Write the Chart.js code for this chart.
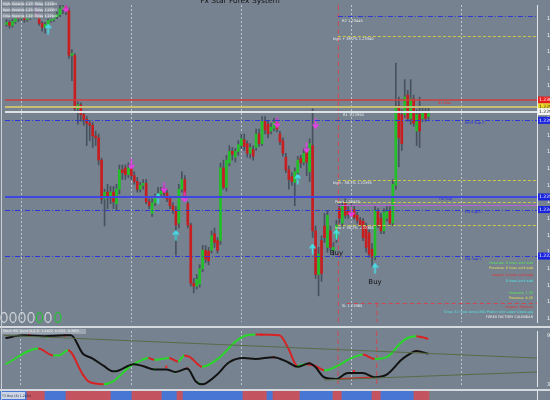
<!DOCTYPE html>
<html>
<head>
<meta charset="utf-8">
<title>Fx Star Forex System</title>
<script src="https://cdn.jsdelivr.net/npm/chart.js@4.4.1/dist/chart.umd.min.js"></script>
<style>
  html, body { margin: 0; padding: 0; background: #76828f; overflow: hidden; }
  #wrap { position: relative; width: 550px; height: 400px; }
  #wrap canvas { position: absolute; left: 0; }
  .sep { position: absolute; left: 0; width: 550px; height: 2px; background: #d5dadf; }
  .edge { position: absolute; left: 1px; top: 0; width: 1px; height: 400px; background: #c9cfd5; }
</style>
</head>
<body>
<div id="wrap">
  <canvas id="price_chart" width="550" height="327" style="top:0"></canvas>
  <canvas id="osc_chart" width="550" height="63" style="top:327px"></canvas>
  <canvas id="strip_chart" width="550" height="10" style="top:390px"></canvas>
  <div class="sep" style="top:326px"></div>
  <div class="sep" style="top:389px"></div>
  <div class="edge"></div>
</div>
<script>
var labels = Array.from({length: 179}, (_, i) => i);

// candles, one per bar
var open = [
1.23400,1.23410,1.23395,1.23415,1.23445,1.23430,1.23440,1.23425,1.23435,1.23450,
1.23460,1.23440,1.23405,1.23385,1.23400,1.23420,1.23425,1.23440,1.23450,1.23480,
1.23490,1.23470,1.23240,1.23240,1.22965,1.22985,1.22935,1.22910,1.22890,1.22880,
1.22825,1.22815,1.22700,1.22500,1.22535,1.22510,1.22535,1.22475,1.22550,1.22650,
1.22660,1.22625,1.22660,1.22620,1.22590,1.22550,1.22570,1.22580,1.22485,1.22425,
1.22480,1.22510,1.22525,1.22550,1.22530,1.22500,1.22465,1.22440,1.22375,1.22550,
1.22600,1.22475,1.22365,1.22065,1.22050,1.22060,1.22140,1.22235,1.22230,1.22235,
1.22320,1.22285,1.22285,1.22660,1.22560,1.22685,1.22745,1.22715,1.22745,1.22775,
1.22805,1.22785,1.22735,1.22755,1.22765,1.22835,1.22785,1.22900,1.22885,1.22850,
1.22865,1.22895,1.22835,1.22800,1.22715,1.22650,1.22615,1.22585,1.22635,1.22710,
1.22690,1.22750,1.22640,1.22775,1.22335,1.22110,1.22285,1.22360,1.22250,1.22335,
1.22235,1.22300,1.22450,1.22375,1.22475,1.22440,1.22435,1.22445,1.22415,1.22390,
1.22385,1.22360,1.22325,1.22240,1.22200,1.22435,1.22400,1.22335,1.22400,1.22440,
1.22375,1.22570,1.22980,1.22935,1.22935,1.23035,1.22915,1.23015,1.22850,1.22935,
1.22915,1.22950,1.22925];
var close = [
1.23410,1.23395,1.23415,1.23445,1.23430,1.23440,1.23425,1.23435,1.23450,1.23460,
1.23440,1.23405,1.23385,1.23400,1.23420,1.23425,1.23440,1.23450,1.23480,1.23490,
1.23470,1.23240,1.23250,1.22965,1.22985,1.22935,1.22910,1.22890,1.22880,1.22825,
1.22815,1.22700,1.22500,1.22535,1.22510,1.22535,1.22485,1.22550,1.22650,1.22635,
1.22625,1.22660,1.22620,1.22590,1.22550,1.22570,1.22580,1.22485,1.22465,1.22480,
1.22510,1.22525,1.22540,1.22530,1.22500,1.22465,1.22440,1.22365,1.22550,1.22600,
1.22510,1.22365,1.22065,1.22050,1.22085,1.22140,1.22235,1.22190,1.22180,1.22310,
1.22275,1.22235,1.22660,1.22560,1.22700,1.22745,1.22730,1.22745,1.22780,1.22810,
1.22770,1.22735,1.22765,1.22720,1.22835,1.22785,1.22900,1.22855,1.22835,1.22870,
1.22895,1.22860,1.22795,1.22735,1.22650,1.22600,1.22590,1.22640,1.22700,1.22685,
1.22735,1.22690,1.22785,1.22335,1.22110,1.22215,1.22115,1.22300,1.22415,1.22250,
1.22250,1.22365,1.22400,1.22465,1.22415,1.22420,1.22460,1.22405,1.22390,1.22365,
1.22300,1.22250,1.22215,1.22200,1.22440,1.22365,1.22335,1.22430,1.22440,1.22375,
1.22575,1.22975,1.22815,1.22785,1.23025,1.22915,1.23015,1.22890,1.22935,1.22850,
1.22950,1.22915,1.22940];
var high = [
1.23425,1.23420,1.23430,1.23465,1.23460,1.23455,1.23450,1.23445,1.23465,1.23480,
1.23475,1.23450,1.23415,1.23410,1.23430,1.23440,1.23450,1.23465,1.23500,1.23510,
1.23515,1.23485,1.23270,1.23250,1.23000,1.22995,1.22950,1.22925,1.22905,1.22895,
1.22850,1.22835,1.22710,1.22550,1.22575,1.22565,1.22565,1.22575,1.22675,1.22675,
1.22675,1.22685,1.22675,1.22640,1.22610,1.22585,1.22600,1.22600,1.22500,1.22500,
1.22525,1.22560,1.22560,1.22570,1.22550,1.22515,1.22480,1.22460,1.22575,1.22640,
1.22620,1.22485,1.22375,1.22090,1.22110,1.22160,1.22260,1.22260,1.22250,1.22335,
1.22350,1.22300,1.22685,1.22700,1.22725,1.22775,1.22765,1.22760,1.22800,1.22835,
1.22835,1.22800,1.22785,1.22775,1.22860,1.22860,1.22925,1.22925,1.22900,1.22890,
1.22915,1.22915,1.22850,1.22815,1.22735,1.22670,1.22635,1.22660,1.22720,1.22725,
1.22760,1.22770,1.22810,1.22965,1.22360,1.22250,1.22310,1.22425,1.22440,1.22360,
1.22275,1.22390,1.22475,1.22485,1.22500,1.22460,1.22475,1.22465,1.22430,1.22405,
1.22400,1.22375,1.22340,1.22270,1.22460,1.22450,1.22425,1.22450,1.22460,1.22460,
1.22600,1.23200,1.23025,1.22960,1.23115,1.23060,1.23115,1.23035,1.22960,1.23025,
1.22975,1.22975,1.22970];
var low = [
1.23390,1.23380,1.23385,1.23405,1.23415,1.23420,1.23410,1.23415,1.23425,1.23440,
1.23430,1.23395,1.23365,1.23355,1.23390,1.23410,1.23415,1.23430,1.23440,1.23455,
1.23450,1.23225,1.23110,1.22950,1.22885,1.22900,1.22880,1.22775,1.22800,1.22765,
1.22775,1.22675,1.22475,1.22360,1.22450,1.22475,1.22450,1.22440,1.22525,1.22600,
1.22600,1.22610,1.22600,1.22575,1.22535,1.22535,1.22550,1.22475,1.22450,1.22410,
1.22465,1.22500,1.22510,1.22515,1.22485,1.22450,1.22425,1.22210,1.22350,1.22535,
1.22500,1.22350,1.22050,1.22015,1.22035,1.22045,1.22125,1.22170,1.22160,1.22220,
1.22250,1.22220,1.22265,1.22550,1.22540,1.22670,1.22700,1.22690,1.22725,1.22760,
1.22750,1.22715,1.22710,1.22700,1.22750,1.22770,1.22775,1.22835,1.22815,1.22835,
1.22850,1.22845,1.22780,1.22720,1.22635,1.22550,1.22570,1.22465,1.22600,1.22660,
1.22675,1.22620,1.22590,1.22300,1.22090,1.22000,1.22075,1.22275,1.22225,1.22235,
1.22210,1.22275,1.22375,1.22360,1.22400,1.22400,1.22420,1.22395,1.22375,1.22350,
1.22285,1.22225,1.22200,1.22150,1.22185,1.22350,1.22320,1.22320,1.22385,1.22360,
1.22360,1.22550,1.22665,1.22750,1.22920,1.22900,1.22885,1.22875,1.22775,1.22765,
1.22900,1.22900,1.22910];

var priceTicks = [1.23430,1.23344,1.23258,1.23172,1.23086,1.23000,1.22914,1.22828,1.22742,1.22656,
  1.22570,1.22484,1.22398,1.22312,1.22226,1.22140,1.22054,1.21968,1.21882];

// horizontal levels on the price panel
var levelNames = ['R2', 'high + 38.2%', '61.Max', 'Yesterday close', 'R1', 'MH3 Sup C', 'high - 38.2%',
  'H4 Sup', 'mid 38.2%', 'Pivot', 'H3 Sup C', 'low + 38.2%', 'M4 Sup C', 'SL'];
var levelValues = [1.23445, 1.23340, 1.23010, 1.22975, 1.22950, 1.22905, 1.22595,
  1.22510, 1.22485, 1.22470, 1.22445, 1.22365, 1.22205, 1.21965];

// signal arrows
var sellBars = [10, 20, 42, 53, 60, 91, 101, 104, 116];
var sellPrice = [1.23470, 1.23490, 1.22680, 1.22560, 1.22510, 1.22895, 1.22765, 1.22890, 1.22435];
var buyBars = [14, 51, 57, 98, 103, 111, 124];
var buyPrice = [1.23375, 1.22500, 1.22310, 1.22600, 1.22240, 1.22315, 1.22140];
var buyTextBars = [111, 124];
var buyTextPrice = [1.22220, 1.22070];

var gridBars = [5, 42, 79, 116, 153];
var dayStartBar = 112;
var tradeBar = 125;

var newsLines = ['Forecast: 0 lines until add', 'Previous: 0 lines until add', 'Impact: 0 lines until add',
  '0 lines until add', 'Forecast: 1.35', 'Previous: 4.25', 'Impact: Medium',
  'Time: 32 mins since USD Prelim Unit Labor Costs q/q', 'FOREX FACTORY CALENDAR'];
var infoRows = [['Highs', 'Yesterday:', '1.23515', 'Today:', '1.23200'],
  ['Opens', 'Yesterday:', '1.23400', 'Today:', '1.22935'],
  ['Closes', 'Yesterday:', '1.22935', 'Today:', '1.22940']];
var lampsOn = [0, 0, 0, 0, 1, 0, 1];

// oscillator panel
var fastBars = [0,11,16,18,21,26,28,33,36,42,46,48,50,55,58,60,62,66,72,77,80,84,92,95,98,101,104,107,117,120,124,128,133,135,138,142];
var fastValues = [39.7,68.2,55.5,55.5,65.0,20.6,7.9,3.2,7.9,36.5,47.6,50.8,47.6,50.8,44.4,55.5,52.4,34.9,52.4,79.4,90.5,93.6,92.1,68.2,36.5,39.7,36.5,28.6,52.4,57.1,49.2,52.4,79.4,87.3,90.5,85.7];
var slowBars = [0,6,13,20,22,26,29,33,36,37,43,46,50,54,57,61,64,66,71,75,80,84,90,95,98,102,104,107,111,115,120,124,128,133,135,138,142];
var slowValues = [87.3,92.1,90.5,92.1,92.1,58.7,50.8,36.5,27.0,27.0,39.7,36.5,30.2,30.2,25.4,31.7,7.9,3.2,20.6,42.8,50.8,49.2,52.4,42.8,34.9,41.3,34.9,15.9,12.7,23.8,23.8,15.9,20.6,47.6,55.5,63.5,58.7];
var upMarkBars = [14, 37, 50, 57, 65, 84, 98, 111, 124];
var upMarkValues = [88.9, 27.0, 30.2, 25.4, 5.0, 49.2, 34.9, 12.7, 15.9];
var downMarkBars = [8, 20, 54, 61, 86, 90, 102, 117, 138];
var downMarkValues = [93.6, 92.1, 34.9, 31.7, 93.0, 52.4, 41.3, 27.0, 63.5];
var divBars = [111, 124];
var divValues = [12.7, 15.9];
var trendABars = [-0.5, 178.5];
var trendAValues = [92.1, 50.8];
var trendBBars = [107, 178.5];
var trendBValues = [11.1, 25.4];
var oscTicks = [92, 3];

// bottom trend strip, one letter per bar (b = up, r = down)
var trend = 'bbbbbbbbb' + 'rrrrrr' + 'bbbbbbb' + 'rrrrrrrrrrrrrrr' + 'bbbbbbb' + 'rrrrrrrrrr' + 'bbbbb' + 'rr' +
  'bbbbbbbbbbbbbbbbbbbb' + 'rrrrrrrr' + 'bb' + 'rrrrrrrrr' + 'bbbbbbbbbbb' + 'rrr' + 'bbbbbbbbbb' + 'rrr' +
  'bbbbbbbbbbb' + 'rrrrr';

var FONT = '"DejaVu Sans"';
var GREEN = 'rgb(34,192,40)', RED = 'rgb(200,30,32)';

function pts(xs, ys) { return xs.map((x, i) => ({x: x, y: ys[i]})); }
function seg(c, x0, y0, x1, y1) { c.beginPath(); c.moveTo(x0, y0); c.lineTo(x1, y1); c.stroke(); }
function txt(c, s, x, y, color, size, align) {
  c.fillStyle = color; c.font = size + 'px ' + FONT;
  c.textAlign = align || 'left'; c.textBaseline = 'middle'; c.fillText(s, x, y);
}
function barEdge(chart, i) {
  return chart.scales.x.getPixelForValue(i) - chart.chartArea.width / labels.length / 2;
}
function arrowImage(color, up) {
  var cv = document.createElement('canvas');
  cv.width = 7; cv.height = 11;
  var g = cv.getContext('2d');
  g.strokeStyle = color; g.lineWidth = 1.6;
  g.beginPath();
  if (up) { g.moveTo(3.5, 10.5); g.lineTo(3.5, 1.5); g.moveTo(0.7, 4.5); g.lineTo(3.5, 1); g.lineTo(6.3, 4.5); }
  else { g.moveTo(3.5, 0.5); g.lineTo(3.5, 9.5); g.moveTo(0.7, 6.5); g.lineTo(3.5, 10); g.lineTo(6.3, 6.5); }
  g.stroke();
  return cv;
}
function rightAxis(min, max, ticks, fmt) {
  return {
    position: 'right', min: min, max: max,
    grid: {display: false},
    border: {color: '#e4e8ec', width: 1},
    ticks: {color: '#f4f6f8', font: {size: 5, family: 'DejaVu Sans'}, padding: 2, autoSkip: false, callback: fmt},
    afterBuildTicks: s => { s.ticks = ticks.map(v => ({value: v})); },
    afterFit: s => { s.width = 13; s.paddingTop = 0; s.paddingBottom = 0; }
  };
}

var BLUE_DOT = [5, 2, 1, 2], YEL_DASH = [3, 2];
var levelStyle = [
  {color: 'rgb(45,55,215)', width: 1, dash: BLUE_DOT, from: dayStartBar, text: 'price', tx: 342, ty: 5, tc: '#e9edf0'},
  {color: 'rgb(205,200,70)', width: 1, dash: YEL_DASH, from: dayStartBar, text: 'price', tx: 333, ty: 3, tc: '#e9edf0'},
  {color: 'rgb(205,62,62)', width: 1.5, text: 'name', tx: 438, ty: 3, tc: 'rgb(215,55,55)', box: 'rgb(232,30,30)', bt: '#fff'},
  {color: 'rgb(200,190,115)', width: 2, box: 'rgb(240,218,40)', bt: '#222'},
  {color: 'rgb(222,226,230)', width: 2, text: 'price', tx: 343, ty: 3, tc: '#eef1f3', box: '#f4f4f4', bt: '#222'},
  {color: 'rgb(45,55,215)', width: 1, dash: BLUE_DOT, text: 'name', tx: 465, ty: 3, tc: 'rgb(40,50,205)', box: 'rgb(25,35,220)', bt: '#fff'},
  {color: 'rgb(205,200,70)', width: 1, dash: YEL_DASH, from: dayStartBar, text: 'price', tx: 333, ty: 3, tc: '#e9edf0'},
  {color: 'rgb(62,72,225)', width: 2, text: 'name', tx: 439, ty: 2, tc: 'rgb(40,50,205)', box: 'rgb(25,35,220)', bt: '#fff'},
  {color: 'rgb(205,200,70)', width: 1, dash: YEL_DASH, from: dayStartBar},
  {color: 'rgb(190,95,215)', width: 1, from: dayStartBar, text: 'price', tx: 335, ty: -3, tc: '#e9edf0'},
  {color: 'rgb(45,55,215)', width: 1, dash: BLUE_DOT, text: 'name', tx: 465, ty: 3, tc: 'rgb(40,50,205)', box: 'rgb(25,35,220)', bt: '#fff'},
  {color: 'rgb(205,200,70)', width: 1, dash: YEL_DASH, from: dayStartBar, text: 'price', tx: 335, ty: 3, tc: '#e9edf0'},
  {color: 'rgb(45,55,215)', width: 1, dash: BLUE_DOT, text: 'name', tx: 465, ty: 3, tc: 'rgb(40,50,205)', box: 'rgb(25,35,220)', bt: '#fff'},
  {color: 'rgb(205,70,80)', width: 1, dash: [4, 3], from: 115, text: 'price', tx: 342, ty: 3, tc: '#e9edf0'}
];
var newsColors = ['rgb(90,235,90)', 'rgb(235,225,80)', 'rgb(235,45,45)', 'rgb(80,235,235)',
  'rgb(90,235,90)', 'rgb(235,225,80)', 'rgb(235,45,45)', 'rgb(80,235,235)', '#f2f2f2'];
var newsY = [263, 268, 275, 281, 293, 298, 307, 312, 317];

var priceDecor = {
  id: 'priceDecor',
  beforeDatasetsDraw(chart) {
    var c = chart.ctx, a = chart.chartArea, xs = chart.scales.x, ys = chart.scales.y;
    c.save();
    c.lineWidth = 1;
    c.strokeStyle = 'rgba(205,211,217,0.85)'; c.setLineDash([2, 2]);
    gridBars.forEach(b => { var x = Math.round(xs.getPixelForValue(b)) + 0.5; seg(c, x, a.top, x, a.bottom); });
    c.strokeStyle = 'rgb(205,75,85)'; c.setLineDash([5, 3]);
    var xd = barEdge(chart, dayStartBar) + 0.5;
    seg(c, xd, a.top, xd, a.bottom);
    var xt = barEdge(chart, tradeBar) + 0.5;
    seg(c, xt, ys.getPixelForValue(levelValues[13]), xt, a.bottom);
    c.restore();
  },
  afterDatasetsDraw(chart) {
    var c = chart.ctx, a = chart.chartArea, xs = chart.scales.x, ys = chart.scales.y;
    c.save();
    c.beginPath(); c.rect(a.left, a.top, a.width, a.height); c.clip();
    levelValues.forEach((v, k) => {
      var st = levelStyle[k];
      var y = Math.round(ys.getPixelForValue(v)) + (st.width === 1 ? 0.5 : 0);
      var x0 = st.from == null ? a.left : barEdge(chart, st.from);
      c.strokeStyle = st.color; c.lineWidth = st.width; c.setLineDash(st.dash || []);
      seg(c, x0, y, a.right, y);
    });
    c.setLineDash([]);
    levelValues.forEach((v, k) => {
      var st = levelStyle[k];
      if (!st.text) return;
      var s = st.text === 'name' ? levelNames[k] : levelNames[k] + ' ' + v.toFixed(5);
      txt(c, s, st.tx, ys.getPixelForValue(v) + st.ty, st.tc, 3.6);
    });
    buyTextBars.forEach((b, k) => {
      txt(c, 'Buy', xs.getPixelForValue(b), ys.getPixelForValue(buyTextPrice[k]), '#111', 7, 'center');
    });
    c.restore();
  },
  afterDraw(chart) {
    var c = chart.ctx, a = chart.chartArea, ys = chart.scales.y;
    c.save();
    // price boxes on the axis
    levelValues.forEach((v, k) => {
      var st = levelStyle[k];
      if (!st.box) return;
      var y = ys.getPixelForValue(v);
      c.fillStyle = st.box; c.fillRect(a.right + 1, y - 3.5, 14, 7);
      txt(c, v.toFixed(5), a.right + 2, y, st.bt, 4.5);
    });
    // title
    c.fillStyle = '#151515'; c.font = '7.5px ' + FONT; c.textAlign = 'center'; c.textBaseline = 'alphabetic';
    c.fillText('Fx Star Forex System', 240, 3);
    // info boxes top left
    var cx = [2, 11, 25, 34, 44], cw = [9, 14, 9, 10, 11];
    infoRows.forEach((row, r) => {
      row.forEach((s, j) => {
        c.fillStyle = 'rgba(150,160,172,0.85)'; c.fillRect(cx[j], 1 + r * 6, cw[j] - 0.5, 5.5);
        c.strokeStyle = 'rgba(95,105,115,0.9)'; c.lineWidth = 0.5; c.strokeRect(cx[j], 1 + r * 6, cw[j] - 0.5, 5.5);
        txt(c, s, cx[j] + 0.7, 3.9 + r * 6, '#f4f6f8', 3);
      });
    });
    // news block
    newsLines.forEach((s, k) => { txt(c, s, 533, newsY[k], newsColors[k], 3.4, 'right'); });
    // signal lamps
    var lx = [4, 13, 22, 31, 39.5, 48, 58];
    lampsOn.forEach((on, k) => {
      c.strokeStyle = on ? 'rgb(45,190,60)' : 'rgb(205,210,215)'; c.lineWidth = 1.3;
      c.beginPath(); c.ellipse(lx[k], 317.5, 3, 5, 0, 0, Math.PI * 2); c.stroke();
    });
    c.restore();
  }
};

var ctx = document.getElementById('price_chart');
new Chart(ctx, {
  type: 'bar',
  data: {
    labels: labels,
    datasets: [{
      label: 'wick',
      data: low.map((l, i) => [l, high[i]]),
      backgroundColor: 'rgb(72,82,94)',
      barThickness: 1, grouped: false, order: 3
    }, {
      label: 'body',
      data: open.map((o, i) => [o, close[i]]),
      backgroundColor: open.map((o, i) => close[i] >= o ? GREEN : RED),
      barThickness: 2, minBarLength: 1, grouped: false, order: 2
    }, {
      type: 'line', label: 'sell',
      data: pts(sellBars, sellPrice),
      showLine: false, pointStyle: arrowImage('rgb(235,60,235)', false), pointRadius: 4, order: 1
    }, {
      type: 'line', label: 'buy',
      data: pts(buyBars, buyPrice),
      showLine: false, pointStyle: arrowImage('rgb(70,225,235)', true), pointRadius: 4, order: 1
    }]
  },
  options: {
    responsive: false, animation: false,
    layout: {padding: 0},
    plugins: {legend: {display: false}, tooltip: {enabled: false}},
    scales: {
      x: {display: false, offset: true},
      y: rightAxis(1.21865, 1.235, priceTicks, v => v.toFixed(5))
    }
  },
  plugins: [priceDecor]
});

var oscDecor = {
  id: 'oscDecor',
  beforeDatasetsDraw(chart) {
    var c = chart.ctx, a = chart.chartArea, xs = chart.scales.x;
    c.save();
    c.lineWidth = 1;
    c.strokeStyle = 'rgba(205,211,217,0.85)'; c.setLineDash([2, 2]);
    gridBars.forEach(b => { var x = Math.round(xs.getPixelForValue(b)) + 0.5; seg(c, x, a.top, x, a.bottom); });
    c.strokeStyle = 'rgb(205,75,85)'; c.setLineDash([5, 3]);
    [dayStartBar, tradeBar].forEach(b => { var x = xs.getPixelForValue(b - 0.5) + 0.5; seg(c, x, a.top, x, a.bottom); });
    c.restore();
  },
  afterDraw(chart) {
    var c = chart.ctx;
    c.save();
    c.fillStyle = 'rgba(170,178,188,0.75)'; c.fillRect(2, 2, 84, 5);
    txt(c, 'Stoch RSI Trend (8,8,3)  1.9022  0.4361  0.3855', 3, 4.6, '#f2f4f6', 3.2);
    c.restore();
  }
};

ctx = document.getElementById('osc_chart');
new Chart(ctx, {
  type: 'line',
  data: {
    datasets: [{
      data: pts(trendABars, trendAValues), borderColor: 'rgb(88,108,70)', borderWidth: 1, pointRadius: 0
    }, {
      data: pts(trendBBars, trendBValues), borderColor: 'rgb(88,108,70)', borderWidth: 1, pointRadius: 0
    }, {
      data: pts(slowBars, slowValues), borderColor: 'rgb(18,18,18)', borderWidth: 2, pointRadius: 0,
      tension: 0.4, cubicInterpolationMode: 'monotone'
    }, {
      data: pts(divBars, divValues), borderColor: 'rgb(215,40,40)', borderWidth: 1.5, pointRadius: 0
    }, {
      data: pts(fastBars, fastValues), borderWidth: 2, pointRadius: 0, borderColor: GREEN,
      tension: 0.4, cubicInterpolationMode: 'monotone',
      segment: {borderColor: s => s.p1.parsed.y >= s.p0.parsed.y ? 'rgb(40,215,40)' : 'rgb(215,35,35)'}
    }, {
      data: pts(upMarkBars, upMarkValues), showLine: false, pointStyle: 'rect', pointRadius: 1.6,
      backgroundColor: 'rgb(40,230,40)', borderWidth: 0
    }, {
      data: pts(downMarkBars, downMarkValues), showLine: false, pointStyle: 'rect', pointRadius: 1.6,
      backgroundColor: 'rgb(235,40,40)', borderWidth: 0
    }]
  },
  options: {
    responsive: false, animation: false,
    layout: {padding: 0},
    plugins: {legend: {display: false}, tooltip: {enabled: false}},
    scales: {
      x: {type: 'linear', display: false, min: -0.5, max: 178.5},
      y: rightAxis(0, 100, oscTicks, v => v.toFixed(1))
    }
  },
  plugins: [oscDecor]
});

var stripDecor = {
  id: 'stripDecor',
  afterDraw(chart) {
    var c = chart.ctx;
    c.save();
    c.fillStyle = 'rgba(220,225,232,0.9)'; c.fillRect(1, 2, 24, 7);
    txt(c, 'T3 Bnp (8) 1.2294', 2, 5.7, '#2a3240', 3.2);
    c.restore();
  }
};

ctx = document.getElementById('strip_chart');
new Chart(ctx, {
  type: 'bar',
  data: {
    labels: labels,
    datasets: [{
      data: trend.split('').map(() => 1),
      backgroundColor: trend.split('').map(t => t === 'b' ? 'rgb(72,118,212)' : 'rgb(196,84,96)'),
      barPercentage: 1, categoryPercentage: 1
    }]
  },
  options: {
    responsive: false, animation: false,
    layout: {padding: 0},
    plugins: {legend: {display: false}, tooltip: {enabled: false}},
    scales: {
      x: {display: false, offset: true},
      y: rightAxis(0, 1, [], v => v)
    }
  },
  plugins: [stripDecor]
});
</script>
</body>
</html>
